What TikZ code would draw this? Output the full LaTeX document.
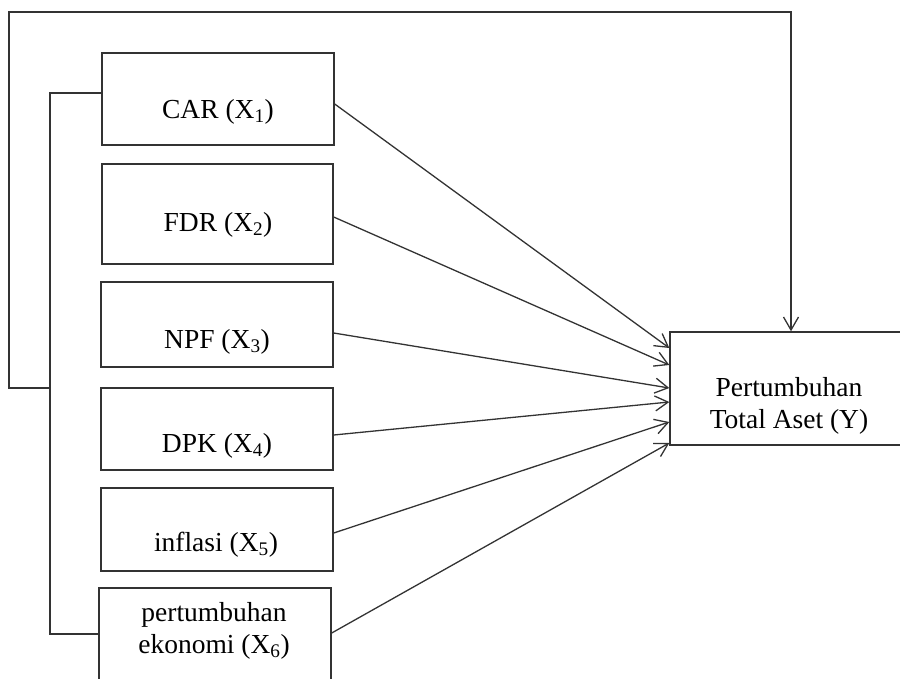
\documentclass[tikz,border=0pt]{standalone}
\usepackage{fontspec}
\setmainfont{Liberation Serif}
\usetikzlibrary{arrows.meta}
\begin{document}
\begin{tikzpicture}[x=1pt,y=-1pt,
  box/.style={draw=black!80, line width=1.4pt, fill=none, inner sep=0pt},
  lbl/.style={font=\fontsize{27.5}{31.5}\selectfont, anchor=base, inner sep=0pt, align=center},
  conn/.style={draw=black!80, line width=1.3pt},
  arr/.style={conn, -{Straight Barb[length=13pt,width=15pt,line width=1.3pt]}}]
\useasboundingbox (0,0) rectangle (900,678);
\clip (0,0) rectangle (900,678);
% boxes
\node[box, minimum width=232pt, minimum height=92pt]  (car) at (218,99) {};
\node[box, minimum width=231pt, minimum height=100pt] (fdr) at (217.5,214) {};
\node[box, minimum width=232pt, minimum height=85pt]  (npf) at (217,324.5) {};
\node[box, minimum width=232pt, minimum height=82pt]  (dpk) at (217,429) {};
\node[box, minimum width=232pt, minimum height=83pt]  (inf) at (217,529.5) {};
\node[box, minimum width=232pt, minimum height=102pt] (pe)  at (215,639) {};
\node[box, minimum width=240pt, minimum height=113pt] (Y)   at (790,388.5) {};
% texts
\node[lbl] (tcar) at (218,118) {CAR (X\textsubscript{1})};
\node[lbl] (tfdr) at (218,231) {FDR (X\textsubscript{2})};
\node[lbl] (tnpf) at (217,348) {NPF (X\textsubscript{3})};
\node[lbl] (tdpk) at (217,452) {DPK (X\textsubscript{4})};
\node[lbl] (tinf) at (216,551) {inflasi (X\textsubscript{5})};
\node[lbl] (tpe)  at (214,653) {pertumbuhan\\ekonomi (X\textsubscript{6})};
\node[lbl] (tY)   at (789,428) {Pertumbuhan\\Total Aset (Y)};
% arrows to Y
\draw[arr] ([yshift=-5pt]car.east)   -- ([yshift=40.5pt]Y.west);
\draw[arr] ([yshift=-3pt]fdr.east)   -- ([yshift=23.5pt]Y.west);
\draw[arr] ([yshift=-8.5pt]npf.east) -- ([yshift=0.5pt]Y.west);
\draw[arr] ([yshift=-6pt]dpk.east)   -- ([yshift=-13.5pt]Y.west);
\draw[arr] ([yshift=-3.5pt]inf.east) -- ([yshift=-33.5pt]Y.west);
\draw[arr] ([yshift=6pt]pe.east)     -- ([yshift=-54.5pt]Y.west);
% bracket and loop
\coordinate (bt) at (50,93);
\coordinate (bb) at (50,634);
\coordinate (bm) at (50,388);
\coordinate (lb) at (9,388);
\coordinate (lt) at (9,12);
\coordinate (rt) at (791,12);
\draw[conn] ([yshift=6pt]car.west) -- (bt) -- (bb) -- ([yshift=5pt]pe.west);
\draw[arr] (bm) -- (lb) -- (lt) -- (rt) -- ([xshift=1pt]Y.north);
\end{tikzpicture}
\end{document}
